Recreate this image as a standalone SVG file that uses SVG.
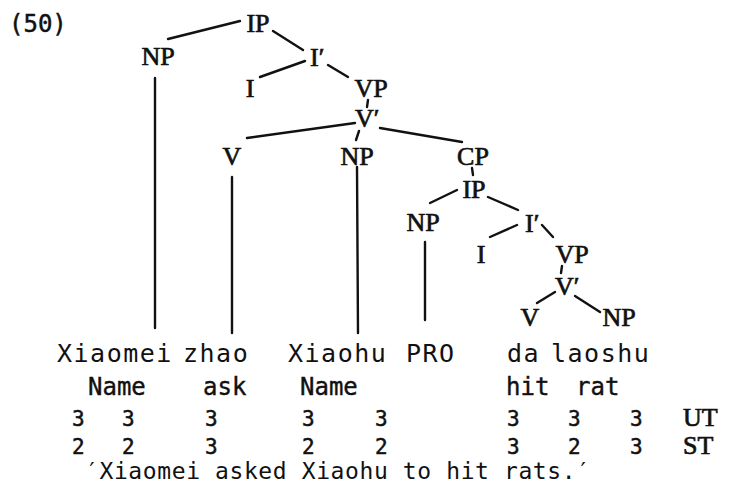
<svg xmlns="http://www.w3.org/2000/svg" width="756" height="498" viewBox="0 0 756 498">
<style>
.bg{fill:#fff}
.lab{font-family:"Liberation Serif","DejaVu Serif",serif;font-size:26px;fill:#111;stroke:#111;stroke-width:0.7;text-anchor:middle}
.labs{font-family:"Liberation Serif","DejaVu Serif",serif;font-size:26px;fill:#111;stroke:#111;stroke-width:0.7}
.w{font-family:"DejaVu Sans Mono","Liberation Mono",monospace;font-size:25px;letter-spacing:1.5px;fill:#111}
.g{font-family:"DejaVu Sans Mono","Liberation Mono",monospace;font-size:24px;fill:#111;stroke:#111;stroke-width:0.4}
.n{font-family:"DejaVu Sans Mono","Liberation Mono",monospace;font-size:21px;fill:#111;stroke:#111;stroke-width:0.5}
.q{font-family:"DejaVu Sans Mono","Liberation Mono",monospace;font-size:23px;letter-spacing:0.6px;fill:#111}
.ex{font-family:"DejaVu Sans Mono","Liberation Mono",monospace;font-size:24px;fill:#111;stroke:#111;stroke-width:0.5}
.conn line{stroke:#111;stroke-width:2.4;stroke-linecap:round}
</style>
<rect class="bg" x="0" y="0" width="756" height="498"/>
<text class="ex" x="9" y="32">(50)</text>

<g id="connectors" class="conn">
<line x1="240" y1="21" x2="168" y2="39"/>
<line x1="273" y1="31" x2="303" y2="50"/>
<line x1="305" y1="61" x2="260" y2="77"/>
<line x1="328" y1="65" x2="348" y2="77"/>
<line x1="368" y1="100" x2="367" y2="107"/>
<line x1="355" y1="123" x2="247" y2="138"/>
<line x1="359" y1="131" x2="356" y2="140"/>
<line x1="380" y1="128" x2="462" y2="142"/>
<line x1="472" y1="168" x2="473" y2="175"/>
<line x1="457" y1="190" x2="430" y2="203"/>
<line x1="488" y1="197" x2="518" y2="210"/>
<line x1="517" y1="225" x2="490" y2="237"/>
<line x1="542" y1="225" x2="553" y2="237"/>
<line x1="562" y1="266" x2="561" y2="273"/>
<line x1="555" y1="292" x2="537" y2="303"/>
<line x1="575" y1="296" x2="600" y2="312"/>
<line x1="155" y1="78" x2="155" y2="328"/>
<line x1="232" y1="177" x2="232" y2="333"/>
<line x1="357" y1="167" x2="358" y2="333"/>
<line x1="425" y1="242" x2="425" y2="320"/>
</g>

<g id="IP1"><text class="lab" x="258" y="32">IP</text></g>
<g id="NP1"><text class="lab" x="158" y="65">NP</text></g>
<g id="Ibar1"><text class="labs" x="310" y="66">I′</text></g>
<g id="I1"><text class="lab" x="250" y="97">I</text></g>
<g id="VP1"><text class="lab" x="371" y="97">VP</text></g>
<g id="Vbar1"><text class="labs" x="355" y="127">V′</text></g>
<g id="V1"><text class="lab" x="232" y="165">V</text></g>
<g id="NP2"><text class="lab" x="357" y="165">NP</text></g>
<g id="CP"><text class="lab" x="473" y="165">CP</text></g>
<g id="IP2"><text class="lab" x="474" y="198">IP</text></g>
<g id="NP3"><text class="lab" x="423" y="231">NP</text></g>
<g id="Ibar2"><text class="labs" x="525" y="232">I′</text></g>
<g id="I2"><text class="lab" x="481" y="263">I</text></g>
<g id="VP2"><text class="lab" x="572" y="263">VP</text></g>
<g id="Vbar2"><text class="labs" x="555" y="295">V′</text></g>
<g id="V2"><text class="lab" x="530" y="326">V</text></g>
<g id="NP4"><text class="lab" x="619" y="326">NP</text></g>

<g id="words">
<text class="w" x="57" y="362">Xiaomei</text>
<text class="w" x="183" y="362">zhao</text>
<text class="w" x="288" y="362">Xiaohu</text>
<text class="w" x="406" y="362">PRO</text>
<text class="w" x="507" y="362">da</text>
<text class="w" x="551" y="362">laoshu</text>
</g>
<g id="gloss">
<text class="g" x="88" y="395">Name</text>
<text class="g" x="203" y="395">ask</text>
<text class="g" x="300" y="395">Name</text>
<text class="g" x="506" y="395">hit</text>
<text class="g" x="576" y="395">rat</text>
</g>
<g id="UT">
<text class="n" x="72" y="426">3</text>
<text class="n" x="122" y="426">3</text>
<text class="n" x="205" y="426">3</text>
<text class="n" x="302" y="426">3</text>
<text class="n" x="375" y="426">3</text>
<text class="n" x="507" y="426">3</text>
<text class="n" x="568" y="426">3</text>
<text class="n" x="630" y="426">3</text>
<text class="labs" x="683" y="426">UT</text>
</g>
<g id="ST">
<text class="n" x="72" y="454">2</text>
<text class="n" x="122" y="454">2</text>
<text class="n" x="205" y="454">3</text>
<text class="n" x="302" y="454">2</text>
<text class="n" x="375" y="454">2</text>
<text class="n" x="507" y="454">3</text>
<text class="n" x="568" y="454">2</text>
<text class="n" x="630" y="454">3</text>
<text class="labs" x="683" y="454">ST</text>
</g>
<g id="translation">
<text class="q" x="85" y="479">′Xiaomei asked Xiaohu to hit rats.′</text>
</g>
</svg>
